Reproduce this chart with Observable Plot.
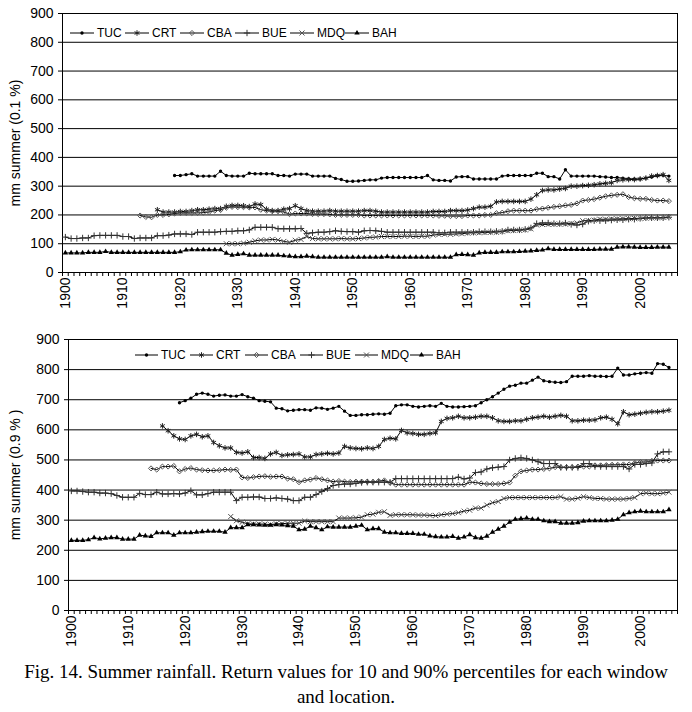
<!DOCTYPE html>
<html><head><meta charset="utf-8">
<script src="https://cdn.jsdelivr.net/npm/d3@7"></script>
<script src="https://cdn.jsdelivr.net/npm/@observablehq/plot@0.6"></script>
<style>
body{margin:0;background:#fff;}
#wrap{position:relative;width:692px;height:712px;font-family:"Liberation Sans",Arial,sans-serif;}
#wrap svg.plot{display:block;}
.legend{position:absolute;display:flex;align-items:center;font-size:12px;color:#000;height:14px;}
.legend .item{display:flex;align-items:center;}
.legend .item span{margin-left:3px;}
#caption{font-family:"Liberation Serif","Times New Roman",serif;font-size:19px;text-align:center;line-height:25px;padding-top:4px;color:#000;}
</style>
</head><body>
<div id="wrap"></div>
<script>
const stations = ["TUC", "CRT", "CBA", "BUE", "MDQ", "BAH"];
const yTicks = [0, 100, 200, 300, 400, 500, 600, 700, 800, 900];
const decadeLabels = [1900, 1910, 1920, 1930, 1940, 1950, 1960, 1970, 1980, 1990, 2000];

// ---- upper panel: mm summer (0.1 %) ----
const start01 = [1919, 1916, 1913, 1900, 1928, 1900];
const TUC_01 = [337, 337,
 340, 343, 335, 335, 335, 335, 352, 337, 335, 335,
 335, 345, 343, 343, 343, 343, 337, 337, 335, 342,
 342, 342, 335, 335, 335, 335, 327, 323, 317, 317,
 318, 320, 322, 322, 328, 330, 330, 330, 330, 330,
 330, 330, 337, 322, 320, 320, 318, 332, 333, 333,
 325, 325, 325, 325, 325, 335, 337, 337, 337, 337,
 337, 345, 345, 333, 333, 325, 357, 335, 335, 335,
 335, 335, 333, 332, 330, 330, 328, 326, 325, 325,
 328, 332, 336, 338, 335];
const CRT_01 = [218, 210, 210, 210, 212,
 212, 215, 218, 218, 220, 222, 222, 230, 233, 233,
 232, 229, 238, 236, 220, 215, 215, 220, 222, 232,
 222, 215, 213, 213, 213, 215, 213, 213, 213, 213,
 213, 215, 215, 213, 210, 210, 210, 210, 210, 210,
 210, 210, 210, 212, 212, 212, 215, 215, 215, 217,
 222, 227, 227, 230, 245, 247, 247, 247, 247, 247,
 255, 270, 285, 287, 287, 290, 292, 300, 300, 302,
 303, 305, 308, 310, 312, 320, 322, 323, 323, 325,
 328, 335, 337, 340, 320];
const CBA_01 = [198, 193, 192, 200, 200, 202, 205, 207,
 207, 207, 207, 208, 210, 215, 217, 225, 228, 227,
 227, 226, 226, 218, 215, 213, 213, 210, 203, 205,
 205, 205, 203, 203, 203, 202, 200, 200, 200, 200,
 200, 198, 198, 198, 198, 198, 198, 198, 198, 198,
 198, 198, 198, 198, 197, 197, 196, 196, 196, 198,
 198, 198, 200, 200, 206, 208, 213, 215, 215, 215,
 215, 220, 222, 225, 228, 230, 233, 235, 240, 250,
 252, 255, 260, 265, 268, 270, 272, 262, 258, 256,
 256, 252, 250, 250, 248];
const BUE_01 = [123, 118, 118, 120, 120, 128, 129, 129, 129, 129, 125,
 125, 118, 120, 120, 120, 128, 128, 130, 134, 134,
 134, 132, 140, 140, 140, 140, 142, 143, 143, 145,
 145, 148, 157, 157, 157, 157, 152, 152, 152, 152,
 153, 136, 138, 140, 140, 142, 145, 143, 142, 142,
 140, 145, 146, 145, 143, 140, 140, 140, 140, 140,
 140, 140, 140, 140, 138, 138, 140, 140, 140, 140,
 140, 142, 142, 142, 143, 143, 148, 148, 148, 150,
 155, 170, 172, 172, 170, 170, 172, 167, 165, 168,
 178, 180, 180, 180, 182, 183, 183, 185, 185, 188,
 190, 190, 190, 190, 192];
const MDQ_01 = [100, 100, 100,
 102, 105, 110, 113, 113, 115, 113, 108, 105, 112,
 115, 125, 118, 117, 117, 117, 117, 118, 117, 117,
 118, 120, 122, 123, 125, 125, 125, 125, 126, 126,
 125, 126, 126, 130, 132, 133, 133, 134, 135, 137,
 138, 138, 139, 140, 140, 142, 145, 146, 147, 148,
 152, 165, 167, 167, 168, 168, 168, 170, 172, 180,
 180, 182, 185, 185, 186, 186, 187, 187, 188, 188,
 189, 190, 190, 191, 193];
const BAH_01 = [68, 68, 68, 68, 70, 70, 70, 73, 70, 70, 70,
 70, 70, 70, 70, 70, 70, 70, 70, 70, 72,
 78, 79, 79, 79, 79, 79, 79, 67, 60, 63,
 65, 60, 60, 60, 60, 60, 60, 58, 57, 55,
 55, 57, 55, 53, 53, 53, 53, 53, 53, 53,
 53, 53, 53, 53, 53, 55, 53, 53, 53, 53,
 53, 53, 53, 53, 53, 53, 53, 62, 63, 62,
 60, 68, 70, 70, 70, 72, 72, 72, 73, 74,
 75, 77, 78, 83, 80, 80, 80, 80, 80, 80,
 80, 80, 81, 81, 81, 88, 89, 89, 88, 87,
 87, 87, 88, 88, 88];

// ---- lower panel: mm summer (0.9 %) ----
const start09 = [1919, 1916, 1914, 1900, 1928, 1900];
const TUC_09 = [690, 697,
 705, 718, 722, 718, 712, 715, 716, 712, 712, 717,
 710, 705, 697, 695, 693, 672, 670, 663, 665, 667,
 667, 665, 673, 672, 668, 672, 678, 662, 648, 648,
 650, 650, 652, 653, 652, 655, 680, 683, 683, 678,
 676, 678, 680, 678, 688, 678, 676, 676, 677, 678,
 680, 690, 700, 710, 722, 735, 745, 748, 755, 755,
 765, 775, 763, 760, 758, 757, 760, 778, 778, 778,
 780, 778, 778, 777, 778, 805, 782, 782, 786, 788,
 790, 788, 820, 818, 807];
const CRT_09 = [613, 597, 580, 570, 568,
 580, 585, 577, 580, 558, 547, 540, 540, 525, 523,
 527, 508, 508, 505, 520, 525, 515, 517, 518, 520,
 510, 510, 518, 520, 522, 520, 523, 545, 540, 538,
 537, 540, 538, 545, 568, 572, 570, 598, 590, 588,
 585, 585, 588, 590, 628, 638, 640, 645, 640, 640,
 642, 645, 645, 640, 630, 628, 628, 630, 630, 635,
 640, 642, 645, 642, 645, 648, 645, 630, 630, 632,
 632, 633, 640, 642, 635, 620, 660, 650, 652, 655,
 658, 660, 660, 662, 665];
const CBA_09 = [472, 468, 478, 478, 480, 462, 470,
 473, 468, 466, 465, 465, 466, 468, 467, 468, 442,
 440, 443, 445, 446, 444, 445, 445, 438, 436, 426,
 432, 435, 440, 436, 432, 428, 430, 428, 427, 428,
 428, 428, 427, 430, 432, 424, 418, 418, 418, 418,
 418, 418, 418, 418, 418, 418, 418, 418, 418, 426,
 425, 422, 420, 420, 420, 422, 425, 448, 462, 465,
 468, 468, 470, 472, 476, 476, 476, 476, 478, 478,
 478, 482, 482, 483, 484, 484, 485, 485, 490, 493,
 493, 497, 498, 498, 498];
const BUE_09 = [397, 397, 395, 393, 393, 390, 390, 388, 382, 376, 376,
 376, 389, 385, 385, 393, 387, 387, 388, 387, 390,
 398, 384, 384, 388, 393, 393, 393, 393, 365, 376,
 376, 377, 377, 372, 372, 374, 372, 370, 365, 365,
 376, 376, 385, 395, 405, 415, 418, 420, 420, 422,
 425, 426, 426, 426, 426, 426, 438, 438, 438, 438,
 438, 438, 438, 438, 438, 438, 438, 443, 437, 440,
 458, 460, 470, 474, 476, 478, 500, 505, 507, 505,
 500, 494, 488, 488, 488, 475, 475, 475, 475, 488,
 488, 478, 478, 478, 478, 478, 478, 470, 485, 485,
 488, 490, 520, 527, 527];
const MDQ_09 = [312, 298, 293,
 288, 287, 287, 287, 285, 288, 288, 290, 290, 290,
 297, 295, 295, 295, 295, 295, 307, 307, 307, 308,
 310, 318, 320, 326, 328, 316, 318, 318, 318, 318,
 317, 317, 316, 315, 318, 320, 322, 325, 330, 333,
 340, 340, 350, 358, 362, 372, 375, 375, 375, 375,
 375, 375, 375, 375, 375, 378, 370, 370, 373, 378,
 375, 372, 372, 370, 370, 370, 370, 372, 375, 388,
 390, 388, 388, 390, 393];
const BAH_09 = [233, 233, 233, 235, 242, 238, 240, 242, 242, 237, 237,
 237, 250, 248, 246, 258, 258, 258, 250, 258, 258,
 258, 260, 262, 263, 263, 263, 260, 275, 275, 275,
 285, 285, 284, 283, 283, 285, 284, 282, 280, 268,
 270, 280, 275, 268, 278, 277, 277, 277, 277, 280,
 283, 268, 272, 272, 260, 258, 258, 256, 256, 256,
 253, 253, 248, 245, 244, 244, 246, 240, 244, 252,
 242, 240, 247, 260, 270, 280, 293, 303, 305, 307,
 303, 303, 298, 295, 295, 290, 290, 290, 292, 297,
 298, 298, 298, 298, 300, 303, 318, 325, 328, 330,
 328, 328, 328, 328, 335];

// marker styles per station
const markers = {
  TUC: {symbol: "circle", r: 1.7, fill: "#000", stroke: "none"},
  CRT: {symbol: "asterisk", r: 2.6, fill: "none", stroke: "#222"},
  CBA: {symbol: "diamond2", r: 2.3, fill: "none", stroke: "#555"},
  BUE: {symbol: "plus", r: 2.2, fill: "none", stroke: "#333"},
  MDQ: {symbol: "times", r: 2.4, fill: "none", stroke: "#555"},
  BAH: {symbol: "triangle", r: 2.0, fill: "#000", stroke: "none"}
};
const d3sym = {circle: d3.symbolCircle, asterisk: d3.symbolAsterisk, diamond2: d3.symbolDiamond2,
  plus: d3.symbolPlus, times: d3.symbolTimes, triangle: d3.symbolTriangle};

function toRows(arrays, starts) {
  const rows = [];
  arrays.forEach((vals, k) => vals.forEach((v, i) => rows.push({station: stations[k], year: starts[k] + i, value: v})));
  return rows;
}
const rows01 = toRows([TUC_01, CRT_01, CBA_01, BUE_01, MDQ_01, BAH_01], start01);
const rows09 = toRows([TUC_09, CRT_09, CBA_09, BUE_09, MDQ_09, BAH_09], start09);

const boundaries = d3.range(1899.5, 2007, 1);

function panel(rows, {height, marginLeft, marginTop, marginBottom, label}) {
  const dots = stations.map(s => Plot.dot(rows.filter(d => d.station === s), {
    x: "year", y: "value", symbol: () => markers[s].symbol, r: markers[s].r,
    fill: markers[s].fill, stroke: markers[s].stroke, strokeWidth: 1
  }));
  return Plot.plot({
    width: 692, height, marginLeft, marginRight: 15, marginTop, marginBottom,
    style: {fontFamily: "Liberation Sans, Arial, sans-serif", fontSize: "13px", color: "#000", background: "#fff", overflow: "visible"},
    x: {domain: [1899.5, 2006.5]},
    y: {domain: [0, 900]},
    symbol: {type: "identity"},
    marks: [
      Plot.ruleY(yTicks, {stroke: "#000", strokeWidth: 1}),
      Plot.frame({stroke: "#000", strokeWidth: 1}),
      Plot.axisY({ticks: yTicks, tickSize: 4, tickPadding: 5, fontSize: 14, label, labelAnchor: "center", labelArrow: "none", labelOffset: marginLeft - 10}),
      Plot.axisX({ticks: boundaries, tickFormat: () => "", tickSize: 4, label: null}),
      Plot.axisX({ticks: decadeLabels, tickFormat: d => String(d), tickSize: 0, tickPadding: 5, tickRotate: -90, fontSize: 14, label: null}),
      Plot.line(rows, {x: "year", y: "value", z: "station", stroke: "#000", strokeWidth: 1}),
      ...dots
    ]
  });
}

function legend(left, top, itemWidth, swatchWidth) {
  const div = document.createElement("div");
  div.className = "legend";
  div.style.left = left + "px";
  div.style.top = top + "px";
  stations.forEach(s => {
    const item = document.createElement("div");
    item.className = "item";
    item.style.width = itemWidth + "px";
    const m = markers[s];
    const svg = d3.create("svg").attr("width", swatchWidth).attr("height", 10);
    svg.append("line").attr("x1", 0).attr("x2", swatchWidth).attr("y1", 5).attr("y2", 5).attr("stroke", "#000");
    svg.append("path").attr("transform", `translate(${swatchWidth / 2},5)`)
      .attr("d", d3.symbol(d3sym[m.symbol], Math.PI * m.r * m.r)())
      .attr("fill", m.fill).attr("stroke", m.stroke);
    item.appendChild(svg.node());
    const t = document.createElement("span");
    t.textContent = s;
    item.appendChild(t);
    div.appendChild(item);
  });
  return div;
}

const wrap = document.getElementById("wrap");
const top1 = panel(rows01, {height: 325, marginLeft: 62, marginTop: 13, marginBottom: 53, label: "mm summer (0.1 %)"});
const top2 = panel(rows09, {height: 330, marginLeft: 68, marginTop: 14, marginBottom: 45, label: "mm summer (0.9 % )"});
wrap.appendChild(top1);
wrap.appendChild(top2);
wrap.appendChild(legend(70, 26, 55, 24));
wrap.appendChild(legend(135, 348, 55, 23));
const cap = document.createElement("div");
cap.id = "caption";
cap.innerHTML = "Fig. 14. Summer rainfall. Return values for 10 and 90% percentiles for each window<br>and location.";
wrap.appendChild(cap);
</script>
</body></html>
